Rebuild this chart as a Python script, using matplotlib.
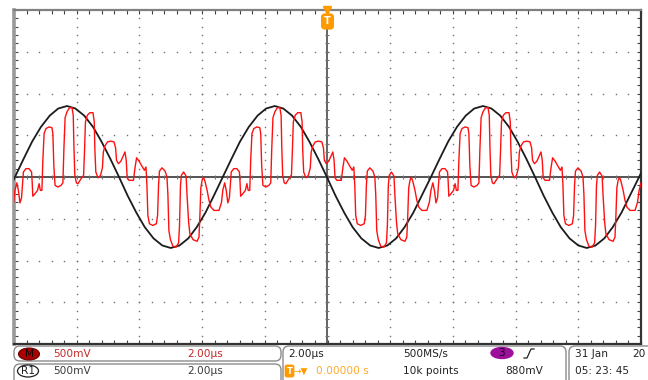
import matplotlib.pyplot as plt
import numpy as np
from matplotlib.patches import FancyBboxPatch, Ellipse

# one cycle of the red trace (CH M), time from the reference sine's rising zero, in us / mV
red_dt = [0.00, 0.06, 0.11, 0.16, 0.21, 0.24, 0.27, 0.35, 0.45, 0.53, 0.55, 0.57, 0.64, 0.72,
          0.77, 0.81, 0.86, 0.89, 0.93, 0.99, 1.09, 1.18, 1.21, 1.24, 1.28, 1.37, 1.47, 1.53,
          1.56, 1.60, 1.66, 1.74, 1.82, 1.86, 1.88, 1.91, 1.96, 2.01, 2.11, 2.19, 2.22, 2.25,
          2.31, 2.39, 2.49, 2.53, 2.55, 2.58, 2.65, 2.73, 2.79, 2.82, 2.87, 2.95, 3.06, 3.16,
          3.21, 3.24, 3.30, 3.38, 3.45, 3.51, 3.55, 3.58, 3.64, 3.78, 3.83, 3.88, 3.96, 4.05,
          4.13, 4.18, 4.21, 4.24, 4.29, 4.40, 4.51, 4.55, 4.58, 4.61, 4.69, 4.79, 4.85, 4.88,
          4.91, 4.96, 5.04, 5.14, 5.22, 5.25, 5.28, 5.31, 5.38, 5.46, 5.49, 5.54, 5.58, 5.68,
          5.81, 5.87, 5.90, 5.93, 5.97, 6.01, 6.06, 6.13, 6.19, 6.25, 6.35, 6.51, 6.59]
red_mv = [-160, -70, -160, -310, -250, -100, 60, 100, 100, 60, -60, -230, -200, -160,
          -80, -160, -160, 200, 520, 580, 600, 590, 520, 140, -100, -120, -100, -70,
          320, 710, 780, 830, 830, 740, 380, 20, -70, -80, -20, 20, 320, 660,
          740, 770, 770, 660, 320, 60, -10, 20, 110, 300, 370, 420, 430, 420,
          350, 200, 160, 190, 250, 300, 200, -10, -40, -40, 110, 230, 190, 130,
          80, 120, -100, -460, -560, -580, -560, -460, -100, 70, 110, 70, 0, -220,
          -640, -750, -830, -840, -790, -580, -100, 20, 60, 10, -220, -540, -680, -750,
          -770, -720, -460, -130, -40, 0, -50, -160, -280, -360, -400, -400, -300]

# one cycle of the black reference trace (R1)
ref_dt = [0.00, 0.28, 0.55, 0.83, 1.11, 1.38, 1.66, 1.93, 2.21, 2.49, 2.76, 3.04,
          3.32, 3.59, 3.87, 4.14, 4.42, 4.70, 4.97, 5.25, 5.53, 5.80, 6.08, 6.35]
ref_mv = [0, 220, 425, 600, 735, 820, 850, 820, 735, 600, 425, 220,
          0, -220, -425, -600, -735, -820, -850, -820, -735, -600, -425, -220]

# rising zero crossings of the reference sine on screen (us)
cycle_starts = [-16.60, -9.97, -3.34, 3.30, 9.94]

t_red = np.concatenate([s + np.array(red_dt) for s in cycle_starts])
v_red = np.tile(red_mv, len(cycle_starts))
t_ref = np.concatenate([s + np.array(ref_dt) for s in cycle_starts])
v_ref = np.tile(ref_mv, len(cycle_starts))

fig = plt.figure(figsize=(6.48, 3.80), dpi=100)
fig.patch.set_facecolor("white")

ax = fig.add_axes([14 / 648, 36 / 380, 627 / 648, 334 / 380])
ax.set_xlim(-10, 10)
ax.set_ylim(-2000, 2000)

# dotted graticule
for gx in np.arange(-8, 9, 2):
    if gx == 0:
        continue
    gy = np.arange(-2000, 2001, 100)
    ax.plot(np.full(len(gy), gx), gy, ls="none", marker="s", ms=1.0, color="#707070", mew=0)
for gy in [-1500, -1000, -500, 500, 1000, 1500]:
    gx = np.arange(-10, 10.01, 0.4)
    ax.plot(gx, np.full(len(gx), gy), ls="none", marker="s", ms=1.0, color="#707070", mew=0)

# centre cross with minor ticks
ax.axhline(0, color="#262626", lw=1.1, zorder=2)
ax.axvline(0, color="#3a3a3a", lw=1.1, zorder=2)
mx = np.arange(-10, 10.01, 0.4)
ax.plot(mx, np.zeros(len(mx)), ls="none", marker="|", ms=3.5, mew=0.8, color="#707070")
my = np.arange(-2000, 2001, 100)
ax.plot(np.zeros(len(my)), my, ls="none", marker="_", ms=3.5, mew=0.8, color="#707070")

ax.plot(t_ref, v_ref, color="#1c1c1c", lw=1.3, zorder=3)
ax.plot(t_red, v_red, color="#ff1010", lw=1.0, zorder=4)

ax.set_xticks(np.arange(-10, 10.01, 0.4))
ax.set_yticks(np.arange(-2000, 2001, 100))
ax.tick_params(direction="in", length=3, width=0.8, color="#444444",
               top=True, right=True, labelbottom=False, labelleft=False)
ax.spines["left"].set_color("#999999")
ax.spines["left"].set_linewidth(2.6)
ax.spines["top"].set_color("#808080")
ax.spines["top"].set_linewidth(1.6)
ax.spines["right"].set_color("#333333")
ax.spines["right"].set_linewidth(1.6)
ax.spines["bottom"].set_color("#333333")
ax.spines["bottom"].set_linewidth(1.6)

# trigger position marker
orange = "#ff9a00"
ax.plot([0], [2000], marker="v", ms=5.5, color=orange, clip_on=False, zorder=6)

# status bar drawn in pixel space
ov = fig.add_axes([0, 0, 1, 1])
ov.set_xlim(0, 648)
ov.set_ylim(380, 0)
ov.axis("off")
ov.set_zorder(5)

ov.text(327.5, 21.5, "T", ha="center", va="center", color="white", fontsize=7, fontweight="bold",
        bbox=dict(boxstyle="round,pad=0.25,rounding_size=0.3", fc=orange, ec=orange))

def box(x, y, w, h):
    ov.add_patch(FancyBboxPatch((x, y), w, h, boxstyle="round,pad=0,rounding_size=6",
                                fc="white", ec="#8c8c8c", lw=1.0, clip_on=False))

box(14, 346, 267, 15)
box(14, 364, 267, 22)
box(283, 346, 283, 40)
box(569, 346, 90, 40)

fs = 7.6
red_txt = "#c42a2a"
gray_txt = "#3c3c3c"
r1, r2 = 354, 371

ov.add_patch(Ellipse((29, r1), 21, 12, fc="#a80000", ec="#700000", lw=0.8))
ov.text(29, r1, "M", ha="center", va="center", fontsize=fs, color="#1a0000")
ov.text(53, r1, "500mV", ha="left", va="center", fontsize=fs, color=red_txt)
ov.text(187, r1, "2.00µs", ha="left", va="center", fontsize=fs, color=red_txt)

ov.add_patch(Ellipse((28, r2), 21, 12, fc="white", ec="#222222", lw=0.9))
ov.text(28, r2, "R1", ha="center", va="center", fontsize=fs, color="#222222")
ov.text(53, r2, "500mV", ha="left", va="center", fontsize=fs, color=gray_txt)
ov.text(187, r2, "2.00µs", ha="left", va="center", fontsize=fs, color=gray_txt)

ov.text(288, r1, "2.00µs", ha="left", va="center", fontsize=fs, color="#222222")
ov.text(403, r1, "500MS/s", ha="left", va="center", fontsize=fs, color="#222222")
ov.add_patch(Ellipse((502, r1 - 1), 22, 11, fc="#9b0f9b", ec="#9b0f9b"))
ov.text(502, r1 - 1, "3", ha="center", va="center", fontsize=fs, color="#1a001a")
ov.plot([524, 527, 531, 534], [358, 358, 349, 349], color="#222222", lw=0.9)

ov.text(289.5, r2, "T", ha="center", va="center", color="white", fontsize=6, fontweight="bold",
        bbox=dict(boxstyle="round,pad=0.15,rounding_size=0.2", fc=orange, ec=orange))
ov.text(294, r2, "→▼", ha="left", va="center", fontsize=6.5, color=orange)
ov.text(316, r2, "0.00000 s", ha="left", va="center", fontsize=fs, color="#ffaa2a")
ov.text(403, r2, "10k points", ha="left", va="center", fontsize=fs, color="#222222")
ov.text(505, r2, "880mV", ha="left", va="center", fontsize=fs, color="#222222")

ov.text(575, r1, "31 Jan", ha="left", va="center", fontsize=fs, color="#222222")
ov.text(632, r1, "20", ha="left", va="center", fontsize=fs, color="#222222")
ov.text(575, r2, "05: 23: 45", ha="left", va="center", fontsize=fs, color="#222222")

fig.savefig("out.png", dpi=100)
